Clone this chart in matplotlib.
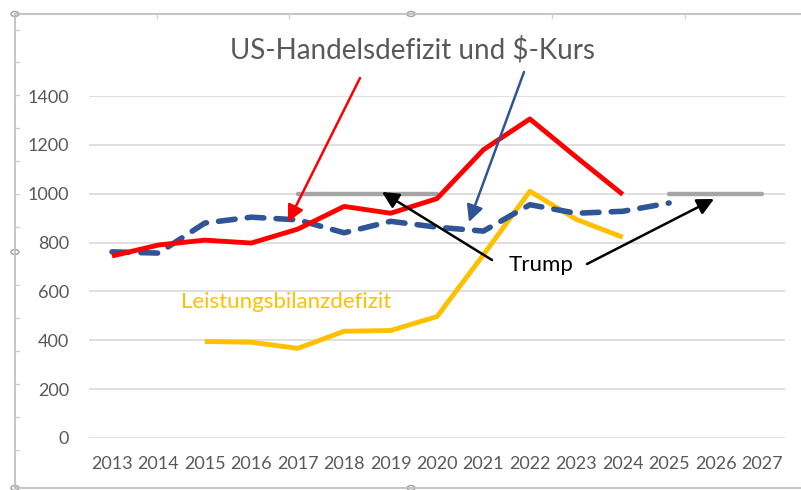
import matplotlib
matplotlib.use("Agg")
import matplotlib.pyplot as plt
from matplotlib.lines import Line2D
from matplotlib.patches import Circle

plt.rcParams['font.family'] = ['Lato', 'DejaVu Sans']

years = ["2013", "2014", "2015", "2016", "2017", "2018", "2019", "2020",
         "2021", "2022", "2023", "2024", "2025", "2026", "2027"]
handelsdefizit = [745, 790, 810, 798, 855, 948, 920, 980, 1180, 1306, 1150, 997,
                  None, None, None]
dollar_kurs = [762, 757, 880, 904, 893, 840, 887, 863, 847, 955, 920, 928, 962,
               None, None]
leistungsbilanz = [None, None, 395, 392, 367, 437, 440, 497, 750, 1010, 895, 822,
                   None, None, None]
trump1 = [None, None, None, None, 1000, 1000, 1000, 1000, None, None, None, None,
          None, None, None]
trump2 = [None, None, None, None, None, None, None, None, None, None, None, None,
          1000, 1000, 1000]
yticks = [0, 200, 400, 600, 800, 1000, 1200, 1400]

W, H = 801, 490
fig = plt.figure(figsize=(W / 100, H / 100), dpi=100)
fig.patch.set_facecolor("white")


def fx(px):
    return px / W


def fy(py):
    return 1 - py / H


ax = fig.add_axes([fx(88.8), fy(438), fx(785.2) - fx(88.8), fy(96) - fy(438)])
ax.set_xlim(-0.5, len(years) - 0.5)
ax.set_ylim(0, 1400)
for s in ax.spines.values():
    s.set_visible(False)
ax.set_yticks(yticks)
ax.set_yticklabels([str(v) for v in yticks])
ax.set_xticks(range(len(years)))
ax.set_xticklabels(years)
ax.tick_params(axis='both', length=0, colors="#595959", labelsize=13)
ax.tick_params(axis='y', pad=14)
ax.tick_params(axis='x', pad=13)
ax.grid(axis='y', color="#D9D9D9", lw=1.2)
ax.set_axisbelow(True)


def series(vals):
    xs = [i for i, v in enumerate(vals) if v is not None]
    ys = [v for v in vals if v is not None]
    return xs, ys


x, y = series(trump1)
ax.plot(x, y, color="#A5A5A5", lw=3.2, solid_capstyle='round', zorder=2)
x, y = series(trump2)
ax.plot(x, y, color="#A5A5A5", lw=3.2, solid_capstyle='round', zorder=2)
x, y = series(leistungsbilanz)
ax.plot(x, y, color="#FFC000", lw=3.5, solid_capstyle='butt', zorder=3)
x, y = series(dollar_kurs)
ax.plot(x, y, color="#2F5597", lw=4.0, linestyle=(0, (3.0, 2.2)),
        dash_capstyle='round', zorder=4)
x, y = series(handelsdefizit)
ax.plot(x, y, color="#FF0000", lw=3.5, solid_capstyle='butt', zorder=5)

# Annotations (figure pixel coordinates)
fig.text(fx(412), fy(50), "US-Handelsdefizit und $-Kurs", color="#595959",
         fontsize=20, ha='center', va='center')
fig.text(fx(541), fy(265), "Trump", color="black", fontsize=16,
         ha='center', va='center')
fig.text(fx(286), fy(302), "Leistungsbilanzdefizit", color="#FFC000",
         fontsize=16, ha='center', va='center')


def arrow(x0, y0, x1, y1, color, lw=1.6, hw=5, hl=8):
    ax.annotate("", xy=(fx(x1), fy(y1)), xycoords='figure fraction',
                xytext=(fx(x0), fy(y0)), textcoords='figure fraction',
                arrowprops=dict(arrowstyle=f"-|>,head_width={hw/10:.2f},head_length={hl/10:.2f}",
                                color=color, lw=lw, shrinkA=0, shrinkB=0),
                annotation_clip=False, zorder=10)


arrow(360, 78, 288, 222, "#FF0000", lw=1.8, hw=5, hl=10)
arrow(524, 72, 469, 222, "#2F5597", lw=1.8, hw=5, hl=10)
arrow(492, 260, 382, 192, "black", lw=1.8, hw=5, hl=10)
arrow(587, 264, 714, 199, "black", lw=1.8, hw=5, hl=10)

# Frame (selection border)
frame_col = "#BFBFBF"
fig.add_artist(Line2D([fx(15), fx(801)], [fy(14), fy(14)], color=frame_col, lw=1.3))
fig.add_artist(Line2D([fx(15), fx(15)], [fy(14), fy(488)], color=frame_col, lw=1.3))
fig.add_artist(Line2D([fx(15), fx(801)], [fy(488), fy(488)], color=frame_col, lw=1.3))
for tx in [157, 289, 552, 685]:
    fig.add_artist(Line2D([fx(tx), fx(tx)], [fy(14), fy(18)], color="#D0D0D0", lw=1))
for ty in [30, 62, 95, 128, 161, 194, 227, 285, 318, 351, 384, 417, 450]:
    fig.add_artist(Line2D([fx(15), fx(19)], [fy(ty), fy(ty)], color="#D0D0D0", lw=1))
for (cx, cy) in [(15, 14), (411, 14), (15, 252), (15, 488), (411, 488)]:
    fig.add_artist(Circle((fx(cx), fy(cy)), radius=4 / W, transform=fig.transFigure,
                          facecolor="white", edgecolor="#A0A0A0", lw=1))

fig.savefig("out.png", dpi=100, facecolor="white")
